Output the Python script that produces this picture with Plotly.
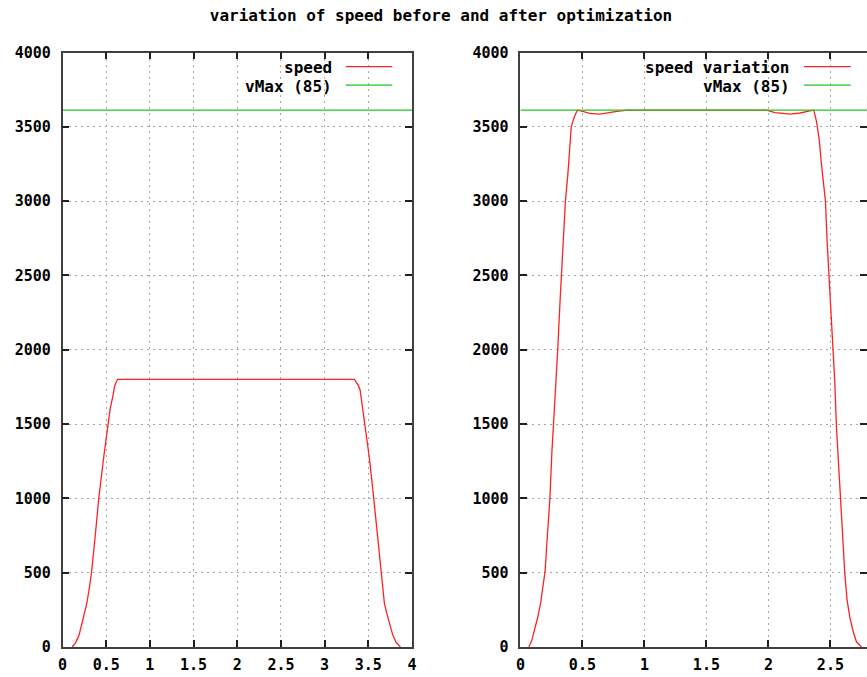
import plotly.graph_objects as go

# ---------------- data ----------------
title_text = "variation of speed before and after optimization"

# left panel: speed before optimization
t_before = [0.111, 0.15, 0.19, 0.225, 0.255, 0.278, 0.305, 0.332, 0.375, 0.415,
            0.47, 0.518, 0.545, 0.575, 0.595, 0.615, 0.633,
            3.341, 3.36, 3.385, 3.406, 3.436, 3.467, 3.515, 3.562, 3.605,
            3.646, 3.665, 3.684, 3.71, 3.741, 3.78, 3.82, 3.867]
v_before = [0, 30, 80, 159, 230, 294, 390, 500, 750, 1000,
            1270, 1500, 1600, 1684, 1751, 1785, 1800,
            1800, 1785, 1760, 1729, 1600, 1500, 1260, 1000, 750,
            500, 400, 294, 230, 159, 80, 30, 0]

# right panel: speed variation after optimization
t_after = [0.068, 0.09, 0.115, 0.14, 0.164, 0.186, 0.199, 0.219, 0.238, 0.254,
           0.268, 0.287, 0.301, 0.320, 0.330, 0.347, 0.363, 0.383, 0.399, 0.41,
           0.432, 0.454, 0.459,
           0.494, 0.56, 0.64, 0.70, 0.78, 0.848, 0.86,
           1.984, 2.054, 2.175, 2.256, 2.325, 2.366,
           2.387, 2.409, 2.427, 2.446, 2.46, 2.473, 2.489, 2.505, 2.522, 2.535,
           2.548, 2.567, 2.581, 2.602, 2.616, 2.634, 2.656, 2.683, 2.71, 2.75]
v_after = [0, 40, 120, 200, 300, 420, 510, 769, 1000, 1313,
           1500, 1834, 2000, 2331, 2500, 2816, 3000, 3183, 3396, 3500,
           3561, 3608, 3612,
           3606, 3591, 3586, 3595, 3604, 3611, 3612,
           3612, 3595, 3586, 3593, 3606, 3612,
           3538, 3419, 3254, 3088, 3000, 2733, 2501, 2283, 1992, 1787,
           1491, 1219, 989, 722, 495, 319, 201, 106, 35, 0]

v_max = 3612
left_x_range = [0, 4]
right_x_range = [0, 2.795]

x_tick_vals = [0, 0.5, 1, 1.5, 2, 2.5, 3, 3.5, 4]
x_tick_text = ["0", "0.5", "1", "1.5", "2", "2.5", "3", "3.5", "4"]
y_tick_vals = [0, 500, 1000, 1500, 2000, 2500, 3000, 3500, 4000]
y_tick_text = ["0", "500", "1000", "1500", "2000", "2500", "3000", "3500", "4000"]

legend_left = ["speed", "vMax (85)"]
legend_right = ["speed variation", "vMax (85)"]

# ---------------- styling ----------------
W, H = 867, 677
RED = "#ff2020"
GREEN = "#22c422"
MONO = "DejaVu Sans Mono"


def px_x(p):
    return p / W


def px_y(p):
    return 1 - p / H


fig = go.Figure()

fig.add_trace(go.Scatter(x=t_before, y=v_before, mode="lines",
                         line=dict(color=RED, width=1.3),
                         xaxis="x", yaxis="y", showlegend=False))
fig.add_trace(go.Scatter(x=left_x_range, y=[v_max, v_max], mode="lines",
                         line=dict(color=GREEN, width=1.3),
                         xaxis="x", yaxis="y", showlegend=False))
fig.add_trace(go.Scatter(x=t_after, y=v_after, mode="lines",
                         line=dict(color=RED, width=1.3),
                         xaxis="x2", yaxis="y2", showlegend=False))
fig.add_trace(go.Scatter(x=right_x_range, y=[v_max, v_max], mode="lines",
                         line=dict(color=GREEN, width=1.3),
                         xaxis="x2", yaxis="y2", showlegend=False))

tickfont = dict(family=MONO, size=15, color="black", weight="bold")
common_axis = dict(
    showline=True, linecolor="#404040", linewidth=1.5, mirror="ticks",
    ticks="inside", ticklen=7, tickwidth=1.5, tickcolor="#202020",
    showgrid=True, gridcolor="#a8a8a8", gridwidth=1, griddash="2px,4px",
    zeroline=False, tickfont=tickfont, automargin=False,
)

y_dom = [px_y(647), px_y(52.5)]

fig.update_layout(
    width=W, height=H,
    margin=dict(l=0, r=0, t=0, b=0),
    paper_bgcolor="white", plot_bgcolor="white",
    showlegend=False,
    title=dict(text=title_text, x=px_x(441), xanchor="center",
               y=px_y(15), yanchor="middle", xref="paper", yref="container",
               font=dict(family=MONO, size=16, color="black", weight="bold")),
    xaxis=dict(domain=[px_x(62.5), px_x(412)], range=left_x_range,
               tickvals=x_tick_vals, ticktext=x_tick_text,
               ticklabelstandoff=3, anchor="y", **common_axis),
    yaxis=dict(domain=y_dom, range=[0, 4000],
               tickvals=y_tick_vals, ticktext=y_tick_text,
               ticklabelstandoff=7, anchor="x", **common_axis),
    xaxis2=dict(domain=[px_x(520.4), 1.0], range=right_x_range,
                tickvals=x_tick_vals, ticktext=x_tick_text,
                ticklabelstandoff=3, anchor="y2", **common_axis),
    yaxis2=dict(domain=y_dom, range=[0, 4000],
                tickvals=y_tick_vals, ticktext=y_tick_text,
                ticklabelstandoff=7, anchor="x2", **common_axis),
)

legfont = dict(family=MONO, size=16, color="black", weight="bold")
annotations = []
shapes = []
legend_specs = [
    (legend_left, 334, 345.7, 392.3),
    (legend_right, 791.7, 804, 850.7),
]
for labels, text_right, l0, l1 in legend_specs:
    for label, ypix, col in zip(labels, [67.5, 86.0], [RED, GREEN]):
        annotations.append(dict(text=label, x=px_x(text_right), xanchor="right",
                                y=px_y(ypix), yanchor="middle",
                                xref="paper", yref="paper", showarrow=False,
                                font=legfont))
        shapes.append(dict(type="line", xref="paper", yref="paper",
                           x0=px_x(l0), x1=px_x(l1),
                           y0=px_y(ypix - 0.8), y1=px_y(ypix - 0.8),
                           line=dict(color=col, width=1.3)))

fig.update_layout(annotations=annotations, shapes=shapes)

fig.write_html(
    "out.html",
    config={"displayModeBar": False},
    post_script="document.body.style.margin='0px';document.body.style.overflow='hidden';",
)
